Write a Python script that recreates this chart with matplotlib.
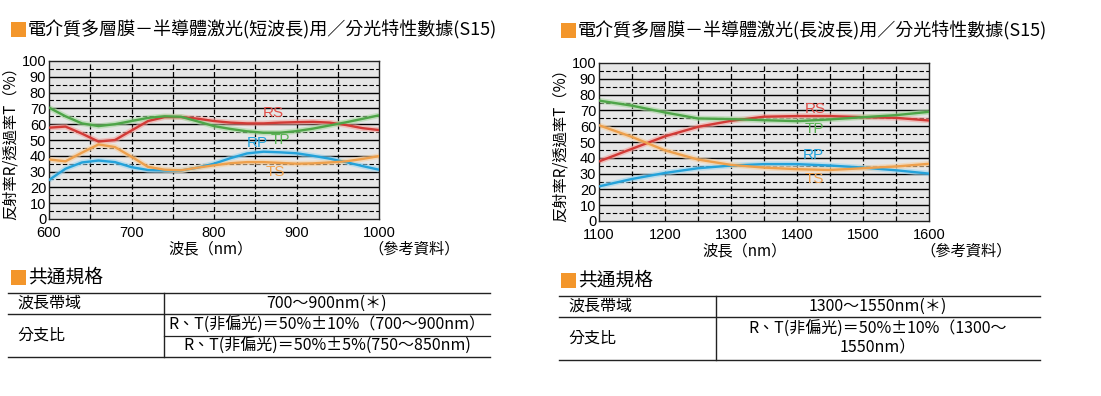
"""
Dielectric multilayer beam splitter (S15) spectral data, short/long wavelength
"""

import matplotlib
matplotlib.use("Agg")
import matplotlib.pyplot as plt
from matplotlib.patches import Rectangle
from matplotlib.lines import Line2D

CJK = ["Noto Sans CJK TC", "DejaVu Sans"]
DIGITS = ["Liberation Sans", "DejaVu Sans"]
plt.rcParams["font.family"] = CJK

W, H = 1101, 396

# short wavelength chart (600-1000 nm)
wl_short = [600, 620, 640, 660, 680, 700, 720, 740, 760, 780, 800,
            820, 840, 860, 880, 900, 920, 940, 960, 980, 1000]
rs_short = [57.8, 58.5, 54.0, 49.0, 50.0, 56.0, 62.0, 64.5, 64.5, 63.5, 62.0,
            61.0, 60.5, 60.5, 61.0, 61.3, 61.5, 61.0, 59.5, 57.5, 56.3]
tp_short = [70.5, 65.0, 60.5, 58.8, 60.0, 62.0, 64.0, 65.0, 64.7, 61.8, 58.8,
            57.0, 55.5, 54.6, 54.6, 55.6, 57.2, 59.2, 61.2, 63.4, 65.6]
ts_short = [37.7, 36.5, 42.0, 47.2, 45.5, 39.4, 33.0, 31.2, 30.8, 32.5, 34.0,
            35.3, 36.0, 36.0, 35.5, 35.0, 35.2, 35.8, 36.5, 38.0, 39.8]
rp_short = [24.7, 31.8, 35.8, 37.0, 36.0, 32.8, 31.0, 30.7, 30.7, 32.5, 35.0,
            38.5, 41.5, 42.6, 42.2, 41.6, 40.0, 38.2, 36.0, 33.5, 31.2]
label_pos_short = {"RS": (872, 67), "TP": (880, 50), "RP": (853, 48), "TS": (874, 30)}

# long wavelength chart (1100-1600 nm)
wl_long = [1100, 1150, 1200, 1250, 1300, 1350, 1400, 1450, 1500, 1550, 1600]
rs_long = [37.7, 45.7, 53.6, 59.6, 63.4, 66.0, 66.4, 66.4, 65.7, 65.3, 63.6]
tp_long = [76.2, 73.0, 68.7, 64.9, 64.5, 63.8, 63.2, 64.3, 65.7, 67.0, 69.1]
ts_long = [60.6, 53.2, 44.7, 38.9, 35.5, 33.8, 32.8, 32.3, 33.4, 34.5, 36.2]
rp_long = [21.9, 26.6, 30.4, 33.4, 35.1, 36.0, 36.0, 35.1, 33.8, 32.1, 30.0]
label_pos_long = {"RS": (1427, 71), "TP": (1427, 58), "RP": (1424, 41.5), "TS": (1427, 26.5)}

titles = ["電介質多層膜－半導體激光(短波長)用／分光特性數據(S15)",
          "電介質多層膜－半導體激光(長波長)用／分光特性數據(S15)"]

spec_head = "共通規格"
spec_rows_short = [("波長帶域", ["700～900nm(＊)"]),
                   ("分支比", ["R、T(非偏光)＝50%±10%（700～900nm）",
                             "R、T(非偏光)＝50%±5%(750～850nm)"])]
spec_rows_long = [("波長帶域", ["1300～1550nm(＊)"]),
                  ("分支比", ["R、T(非偏光)＝50%±10%（1300～\n1550nm）"])]

COLORS = {"RS": ("#d23a36", "#f5a5a0"), "TP": ("#4ea548", "#a8d8a0"),
          "RP": ("#24a2da", "#9ed6f0"), "TS": ("#eea04c", "#f8d0a0")}
LABEL_COLORS = {"RS": "#e0504a", "TP": "#5ab454", "RP": "#22a4de", "TS": "#f0a24e"}
ORANGE = "#f3962b"


def fx(x):
    return x / W


def fy(y):
    return 1 - y / H


def square(fig, x, y, size=15):
    fig.add_artist(Rectangle((fx(x), fy(y + size)), size / W, size / H,
                             transform=fig.transFigure, color=ORANGE, lw=0))


def hline(fig, x0, x1, y, lw=1.0):
    fig.add_artist(Line2D([fx(x0), fx(x1)], [fy(y), fy(y)],
                          transform=fig.transFigure, color="#222222", lw=lw))


def vline(fig, x, y0, y1, lw=1.0):
    fig.add_artist(Line2D([fx(x), fx(x)], [fy(y0), fy(y1)],
                          transform=fig.transFigure, color="#222222", lw=lw))


def draw_chart(fig, box, wl, series, label_pos, xstep):
    x0, y0, x1, y1 = box
    ax = fig.add_axes([fx(x0), fy(y1), (x1 - x0) / W, (y1 - y0) / H])
    ax.set_facecolor("#e6e6e6")
    ax.set_xlim(wl[0], wl[-1])
    ax.set_ylim(0, 100)
    for v in range(5, 100, 5):
        ax.axhline(v, color="black", lw=1.0 if v % 10 == 0 else 0.8,
                   ls="-" if v % 10 == 0 else (0, (4, 2)), zorder=1)
    for v in range(wl[0] + xstep // 2, wl[-1], xstep // 2):
        ax.axvline(v, color="black", lw=0.9, ls=(0, (4, 2)), zorder=1)
    for name, vals in series.items():
        core, halo = COLORS[name]
        ax.plot(wl, vals, color=halo, lw=4.0, alpha=0.6, zorder=2,
                solid_capstyle="butt")
        ax.plot(wl, vals, color=core, lw=1.7, zorder=3)
        lx, ly = label_pos[name]
        ax.text(lx, ly, name, color=LABEL_COLORS[name], family=DIGITS,
                fontsize=11, ha="center", va="center", zorder=4)
    ax.set_yticks(range(0, 101, 10))
    ax.set_xticks(range(wl[0], wl[-1] + 1, xstep))
    ax.tick_params(axis="y", length=0, pad=2, labelsize=10.5)
    ax.tick_params(axis="x", length=0, pad=5, labelsize=10.5)
    for lab in ax.get_xticklabels() + ax.get_yticklabels():
        lab.set_family(DIGITS)
    for sp in ax.spines.values():
        sp.set_linewidth(1.0)
        sp.set_color("#222222")
    ax.set_ylabel("反射率R/透過率T（%）", fontsize=11, labelpad=2)
    return ax


def draw_table(fig, x0, x1, xdiv, ytop, yrow, ybot, rows, ysub=None):
    hline(fig, x0, x1, ytop)
    hline(fig, x0, x1, yrow)
    hline(fig, x0, x1, ybot)
    vline(fig, xdiv, ytop, ybot)
    if ysub is not None:
        hline(fig, xdiv, x1, ysub, lw=0.9)
    (h1, v1), (h2, v2) = rows
    cx = (xdiv + x1) / 2
    fig.text(fx(x0 + 9), fy((ytop + yrow) / 2), h1, fontsize=11.5, va="center")
    fig.text(fx(cx), fy((ytop + yrow) / 2), v1[0], fontsize=11.5,
             ha="center", va="center")
    fig.text(fx(x0 + 9), fy((yrow + ybot) / 2), h2, fontsize=11.5, va="center")
    if len(v2) == 2:
        fig.text(fx(cx), fy((yrow + ysub) / 2), v2[0], fontsize=11.5,
                 ha="center", va="center")
        fig.text(fx(cx), fy((ysub + ybot) / 2), v2[1], fontsize=11.5,
                 ha="center", va="center")
    else:
        fig.text(fx(cx), fy((yrow + ybot) / 2), v2[0], fontsize=11.5,
                 ha="center", va="center", linespacing=1.1)


def main():
    fig = plt.figure(figsize=(W / 100, H / 100), dpi=100)

    # left block
    square(fig, 11, 22)
    fig.text(fx(28), fy(30), titles[0], fontsize=13, va="center")
    draw_chart(fig, (49, 61, 379, 219), wl_short,
               {"RS": rs_short, "TP": tp_short, "RP": rp_short, "TS": ts_short},
               label_pos_short, 100)
    fig.text(fx(211), fy(249), "波長（nm）", fontsize=11, ha="center", va="center")
    fig.text(fx(414), fy(249), "（參考資料）", fontsize=11, ha="center", va="center")
    square(fig, 11, 270)
    fig.text(fx(28), fy(277), spec_head, fontsize=13.5, va="center")
    draw_table(fig, 8, 490, 164, 293, 314, 357, spec_rows_short, ysub=336)

    # right block
    square(fig, 561, 23)
    fig.text(fx(578), fy(31), titles[1], fontsize=13, va="center")
    draw_chart(fig, (599, 63, 929, 221), wl_long,
               {"RS": rs_long, "TP": tp_long, "RP": rp_long, "TS": ts_long},
               label_pos_long, 100)
    fig.text(fx(745), fy(251), "波長（nm）", fontsize=11, ha="center", va="center")
    fig.text(fx(966), fy(251), "（參考資料）", fontsize=11, ha="center", va="center")
    square(fig, 561, 273)
    fig.text(fx(578), fy(280), spec_head, fontsize=13.5, va="center")
    draw_table(fig, 559, 1040, 716, 296, 317, 360, spec_rows_long)

    fig.savefig("out.png", dpi=100, facecolor="white")
    plt.close(fig)


if __name__ == "__main__":
    main()
